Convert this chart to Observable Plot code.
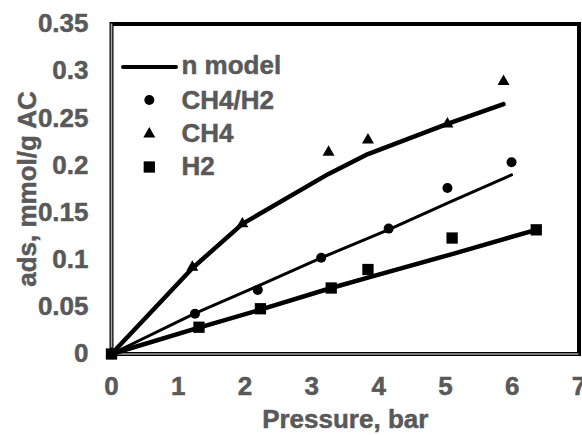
<!DOCTYPE html>
<html>
<head>
<meta charset="utf-8">
<script src="https://cdn.jsdelivr.net/npm/d3@7"></script>
<script src="https://cdn.jsdelivr.net/npm/@observablehq/plot@0.6"></script>
<style>
  html, body { margin: 0; padding: 0; background: #fff; }
  #chart { position: relative; width: 582px; height: 435px; overflow: hidden; }
  #chart svg { display: block; }
  #chart svg text { stroke: #595959; stroke-width: 0.5px; }
  #legend { position: absolute; left: 0; top: 0; pointer-events: none; }
  #legend text { font-family: 'Liberation Sans', Arial, Helvetica, sans-serif; font-size: 26px; font-weight: 700; fill: #595959; }
</style>
</head>
<body>
<div id="chart"></div>
<script>
// ---- Data ----
const pressureCH4 = [0, 1.21, 1.96, 3.25, 3.84, 5.03, 5.87];
const adsCH4      = [0, 0.092, 0.138, 0.214, 0.227, 0.244, 0.289];
const modelCH4    = [0, 0.091, 0.138, 0.191, 0.212, 0.244, 0.265];

const pressureMix = [0, 1.25, 2.19, 3.14, 4.15, 5.03, 5.99];
const adsMix      = [0, 0.0426, 0.068, 0.102, 0.133, 0.176, 0.2034];
const modelMix    = [0, 0.043, 0.072, 0.102, 0.132, 0.160, 0.190];

const pressureH2  = [0, 1.31, 2.23, 3.29, 3.84, 5.10, 6.36];
const adsH2       = [0, 0.0284, 0.048, 0.070, 0.0896, 0.123, 0.1317];
const modelH2     = [0, 0.028, 0.047, 0.070, 0.081, 0.106, 0.1317];

const xTicks = [0, 1, 2, 3, 4, 5, 6, 7];
const xTickLabels = ["0", "1", "2", "3", "4", "5", "6", "7"];
const yTicks = [0, 0.05, 0.1, 0.15, 0.2, 0.25, 0.3, 0.35];
const yTickLabels = ["0", "0.05", "0.1", "0.15", "0.2", "0.25", "0.3", "0.35"];

const xLabel = "Pressure, bar";
const yLabel = "ads, mmol/g AC";
const legendNames = ["n model", "CH4/H2", "CH4", "H2"];

// ---- Build tables ----
const toRows = (xs, ys) => xs.map((x, i) => ({x, y: ys[i]}));
const ch4Pts = toRows(pressureCH4, adsCH4), ch4Mod = toRows(pressureCH4, modelCH4);
const mixPts = toRows(pressureMix, adsMix), mixMod = toRows(pressureMix, modelMix);
const h2Pts  = toRows(pressureH2, adsH2),   h2Mod  = toRows(pressureH2, modelH2);

const FONT = "'Liberation Sans', Arial, Helvetica, sans-serif";
const GREY = "#595959";
const R_CIRCLE = 5, R_TRI = 4.45, R_SQ = 6.37;

const plot = Plot.plot({
  width: 582,
  height: 435,
  marginLeft: 111,
  marginRight: 3.5,
  marginTop: 23.5,
  marginBottom: 81.5,
  style: {fontFamily: FONT, fontSize: "26px", fontWeight: "bold", color: GREY, background: "white", overflow: "visible"},
  x: {domain: [0, 7], ticks: xTicks, tickFormat: d => xTickLabels[xTicks.indexOf(d)], tickSize: 0, tickPadding: 23, label: null},
  y: {domain: [0, 0.35], ticks: yTicks, tickFormat: d => yTickLabels[yTicks.indexOf(d)], tickSize: 0, tickPadding: 23, label: null},
  marks: [
    Plot.frame({stroke: "black", strokeWidth: 4}),
    Plot.ruleX([0], {stroke: "#a6a6a6", strokeWidth: 1.6}),
    Plot.ruleY([0], {stroke: "#a6a6a6", strokeWidth: 1.6}),
    Plot.line(ch4Mod, {x: "x", y: "y", stroke: "black", strokeWidth: 4.5}),
    Plot.line(mixMod, {x: "x", y: "y", stroke: "black", strokeWidth: 3}),
    Plot.line(h2Mod,  {x: "x", y: "y", stroke: "black", strokeWidth: 4.5}),
    Plot.dot(mixPts, {x: "x", y: "y", symbol: "circle", r: R_CIRCLE, fill: "black"}),
    Plot.dot(ch4Pts, {x: "x", y: "y", symbol: "triangle", r: R_TRI, fill: "black"}),
    Plot.dot(h2Pts,  {x: "x", y: "y", symbol: "square", r: R_SQ, fill: "black"}),
    Plot.text([xLabel], {frameAnchor: "bottom", lineAnchor: "middle", textAnchor: "middle", dy: 66, text: d => d, fill: GREY, fontSize: 26, fontWeight: "bold"}),
    Plot.text([yLabel], {frameAnchor: "left", lineAnchor: "middle", textAnchor: "middle", dx: -84, rotate: -90, text: d => d, fill: GREY, fontSize: 26, fontWeight: "bold"})
  ]
});

const chart = document.getElementById("chart");
chart.appendChild(plot);

// ---- Legend (inside the plot, top-left) ----
const leg = d3.select(chart).append("svg")
  .attr("id", "legend").attr("width", 582).attr("height", 435);

leg.append("line").attr("x1", 123).attr("x2", 176).attr("y1", 67).attr("y2", 67)
  .attr("stroke", "black").attr("stroke-width", 4).attr("stroke-linecap", "round");
leg.append("circle").attr("cx", 149.3).attr("cy", 100).attr("r", R_CIRCLE).attr("fill", "black");
leg.append("path").attr("transform", "translate(149.3,134)")
  .attr("d", d3.symbol(d3.symbolTriangle, Math.PI * R_TRI * R_TRI)()).attr("fill", "black");
leg.append("path").attr("transform", "translate(149.3,167)")
  .attr("d", d3.symbol(d3.symbolSquare, Math.PI * R_SQ * R_SQ)()).attr("fill", "black");

const baselines = [74, 109.3, 141.7, 175];
legendNames.forEach((name, i) => {
  leg.append("text").attr("x", 181.5).attr("y", baselines[i])
    .style("font-weight", "700").text(name);
});
</script>
</body>
</html>
